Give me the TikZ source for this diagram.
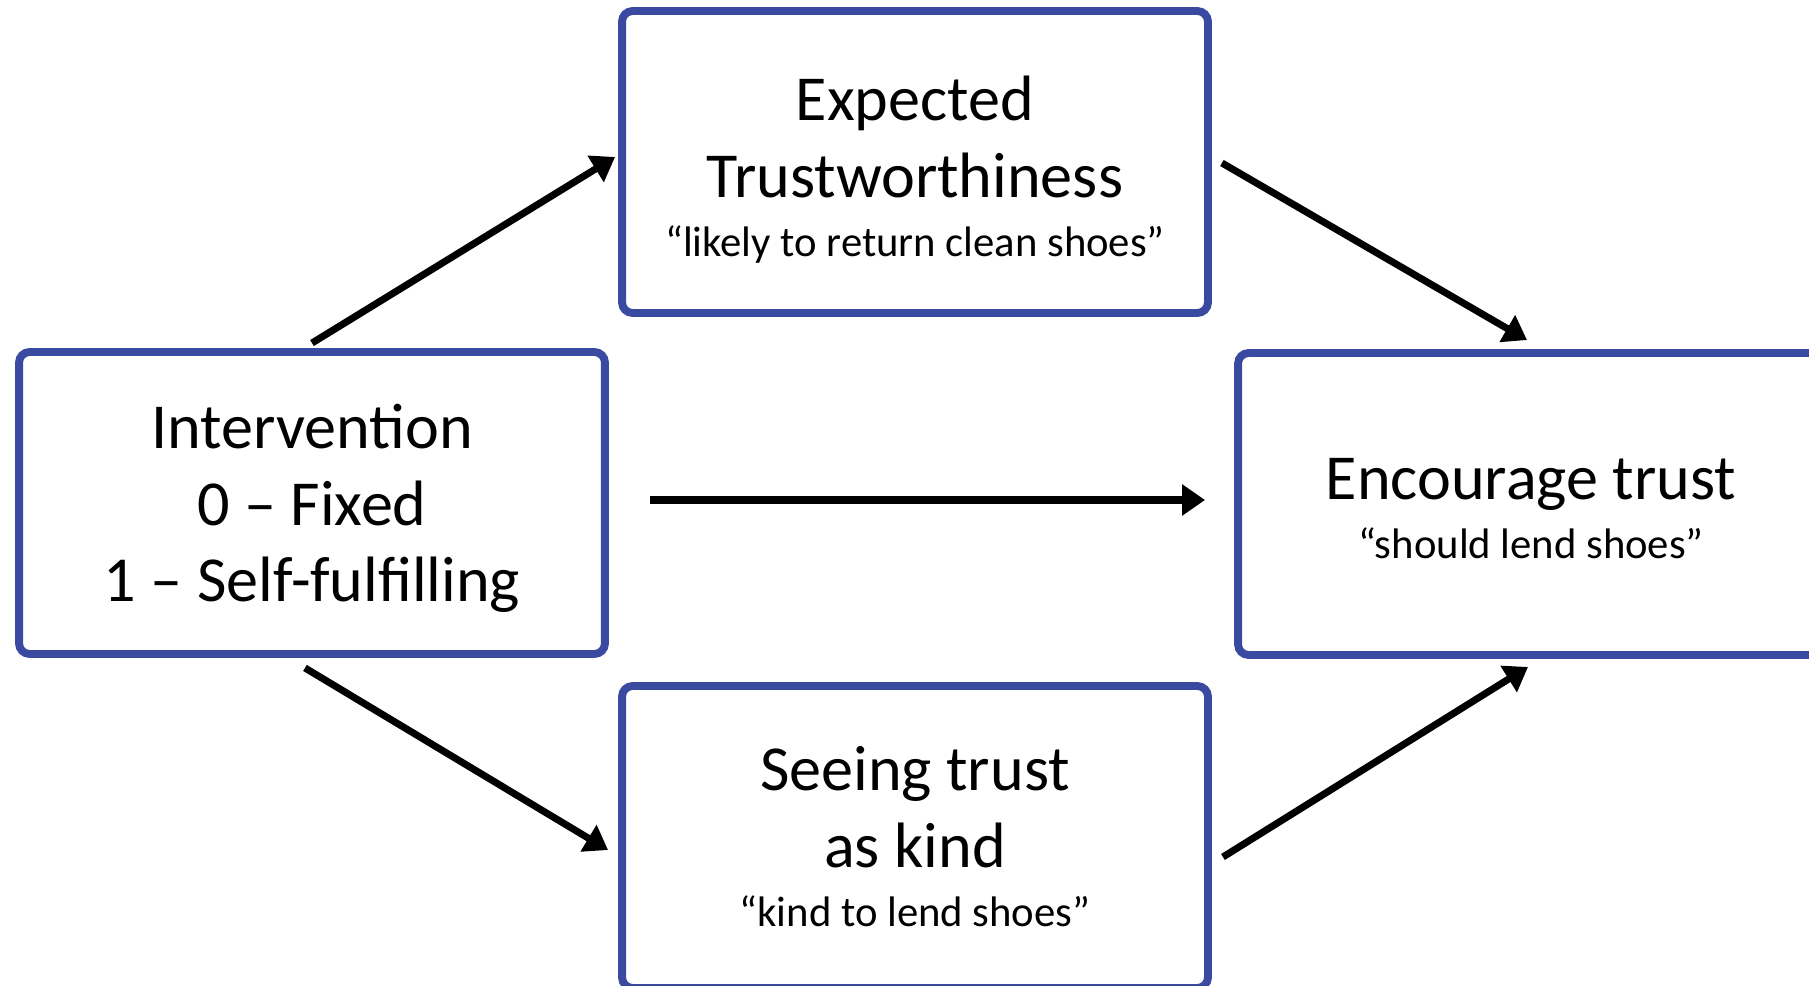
\documentclass[tikz,border=0pt]{standalone}
\usepackage{fontspec}
\setmainfont{Carlito}
\usetikzlibrary{arrows.meta}
\definecolor{boxblue}{RGB}{58,74,160}
\newcommand{\quotefont}{\fontsize{24.3}{29.2}\selectfont}

\tikzset{
  box/.style={draw=boxblue, line width=4.5pt, rounded corners=6pt, fill=white,
    minimum width=11.72cm, minimum height=6.04cm, inner sep=0pt, outer sep=0pt,
    align=center, font=\fontsize{36.5}{43.7}\selectfont, text depth=0pt},
  flow/.style={-{Triangle[length=13pt,width=17pt]}, line width=4pt, black}
}

\begin{document}
\begin{tikzpicture}[x=0.02cm, y=-0.02cm]
  \useasboundingbox (0,0) rectangle (1809,986);
  \clip (0,0) rectangle (1809,986);
  \fill[white] (0,0) rectangle (1809,986);

  % Draw the four boxes
  \node[box, text height=3.96cm] (int) at (312,503) {Intervention\\0 -- Fixed\\1 -- Self-fulfilling};
  \node[box, text height=3.8cm] (exp) at (915,162) {Expected\\Trustworthiness\\[-9.8pt]{\quotefont “likely to return clean shoes”}};
  \node[box, text height=3.6cm] (kind) at (915,837) {Seeing trust\\as kind\\[-9.8pt]{\quotefont “kind to lend shoes”}};
  \node[box, text height=2.2cm] (enc) at (1531,504) {Encourage trust\\[-9.8pt]{\quotefont “should lend shoes”}};

  % Draw the paths
  \draw[flow] ([shift={(0,-9)}]int.north) -- ([shift={(-7,-5)}]exp.west);
  \draw[flow] ([shift={(14,1)}]exp.east) -- ([shift={(-4,-13)}]enc.north);
  \draw[flow] ([shift={(45,-3)}]int.east) -- ([shift={(-33,-4)}]enc.west);
  \draw[flow] ([shift={(-7,14)}]int.south) -- ([shift={(-14,13)}]kind.west);
  \draw[flow] ([shift={(15,20)}]kind.east) -- ([shift={(-3,12)}]enc.south);
\end{tikzpicture}
\end{document}
